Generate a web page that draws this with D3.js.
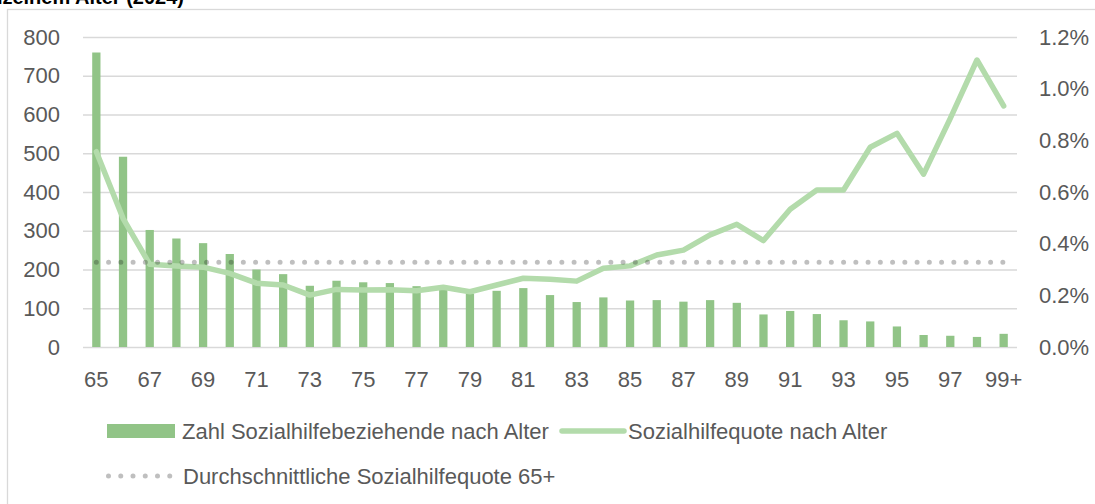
<!DOCTYPE html>
<html>
<head>
<meta charset="utf-8">
<script src="https://cdn.jsdelivr.net/npm/d3@7"></script>
<style>
  html, body { margin: 0; padding: 0; background: #fff; overflow: hidden; }
  svg { display: block; font-family: "Liberation Sans", Arial, sans-serif; }
</style>
</head>
<body>
<svg id="chart" width="1095" height="504"></svg>
<script>
// ages, single years 65..98 plus 99+
const ages = d3.range(65, 99).map(String).concat(["99+"])

// Zahl Sozialhilfebeziehende nach Alter
const recipients = [760, 491, 302, 280, 268, 240, 200, 188, 158, 171,
                    167, 165, 157, 148, 138, 145, 152, 134, 116, 128,
                    120, 121, 117, 121, 114, 84, 93, 85, 69, 66,
                    53, 31, 29, 26, 34]

// Sozialhilfequote nach Alter (in %)
const rate = [0.756, 0.498, 0.320, 0.314, 0.309, 0.285, 0.247, 0.240, 0.201, 0.223,
              0.221, 0.222, 0.218, 0.231, 0.214, 0.240, 0.266, 0.262, 0.255, 0.305,
              0.314, 0.356, 0.375, 0.434, 0.475, 0.412, 0.533, 0.608, 0.608, 0.773,
              0.827, 0.669, 0.885, 1.111, 0.933]

// Durchschnittliche Sozialhilfequote 65+ (in %)
const avgRate = 0.328

const leftTicks = d3.range(0, 801, 100)
const rightTicks = [0, 0.2, 0.4, 0.6, 0.8, 1.0, 1.2]

const seriesNames = ["Zahl Sozialhilfebeziehende nach Alter",
                     "Sozialhilfequote nach Alter",
                     "Durchschnittliche Sozialhilfequote 65+"]

const barColor = "#91C487"
const lineColor = "#B3DBAB"
const textColor = "#595959"
const gridColor = "#D9D9D9"
const fontSize = 22

const svg = d3.select("#chart")
const plotLeft = 83, plotRight = 1017, plotTop = 37, plotBottom = 347

const x = d3.scaleBand()
  .domain(ages)
  .range([plotLeft, plotRight])
  .paddingInner(0.69)
  .paddingOuter(0.345)

const yL = d3.scaleLinear().domain([0, 800]).range([plotBottom, plotTop])
const yR = d3.scaleLinear().domain([0, 1.2]).range([plotBottom, plotTop])

// title, cut off at the top edge like in the source image
svg.append("text")
  .attr("x", 184)
  .attr("y", 4)
  .attr("text-anchor", "end")
  .attr("font-weight", "bold")
  .attr("font-size", 20)
  .attr("fill", "#000")
  .text("Sozialhilfebeziehende nach einzelnem Alter (2024)")

// chart frame
svg.append("rect")
  .attr("x", 7.5).attr("y", 9.5)
  .attr("width", 1200).attr("height", 600)
  .attr("fill", "none")
  .attr("stroke", gridColor)
  .attr("stroke-width", 1.3)

// gridlines + left axis
const gLeft = svg.append("g")
  .attr("transform", `translate(${plotLeft},0)`)
  .call(d3.axisLeft(yL).tickValues(leftTicks).tickSize(-(plotRight - plotLeft)).tickPadding(23))
gLeft.select(".domain").remove()
gLeft.selectAll(".tick line").attr("stroke", gridColor).attr("stroke-width", 1.5)
gLeft.selectAll(".tick text")
  .attr("fill", textColor).attr("font-size", fontSize)
  .attr("font-family", "Liberation Sans, Arial, sans-serif")

// right axis
const gRight = svg.append("g")
  .attr("transform", `translate(${plotRight},0)`)
  .call(d3.axisRight(yR).tickValues(rightTicks).tickSize(0).tickPadding(22)
    .tickFormat(d => d3.format(".1f")(d) + "%"))
gRight.select(".domain").remove()
gRight.selectAll(".tick text")
  .attr("fill", textColor).attr("font-size", fontSize)
  .attr("font-family", "Liberation Sans, Arial, sans-serif")

// x axis, every second label
const gX = svg.append("g")
  .attr("transform", `translate(0,${plotBottom})`)
  .call(d3.axisBottom(x).tickSize(0).tickPadding(24)
    .tickValues(ages.filter((d, i) => i % 2 === 0)))
gX.select(".domain").remove()
gX.selectAll(".tick text")
  .attr("fill", textColor).attr("font-size", fontSize)
  .attr("font-family", "Liberation Sans, Arial, sans-serif")

// bars
svg.append("g")
  .selectAll("rect")
  .data(recipients)
  .join("rect")
    .attr("x", (d, i) => x(ages[i]))
    .attr("y", d => yL(d))
    .attr("width", x.bandwidth())
    .attr("height", d => yL(0) - yL(d))
    .attr("fill", barColor)

const cx = i => x(ages[i]) + x.bandwidth() / 2

// rate line
svg.append("path")
  .datum(rate)
  .attr("fill", "none")
  .attr("stroke", lineColor)
  .attr("stroke-width", 5.5)
  .attr("stroke-linejoin", "round")
  .attr("stroke-linecap", "round")
  .attr("d", d3.line().x((d, i) => cx(i)).y(d => yR(d)))

// average dotted line
svg.append("line")
  .attr("x1", cx(0)).attr("x2", cx(ages.length - 1))
  .attr("y1", yR(avgRate)).attr("y2", yR(avgRate))
  .attr("stroke", "rgba(0,0,0,0.25)")
  .attr("stroke-width", 5)
  .attr("stroke-linecap", "round")
  .attr("stroke-dasharray", "0 12.25")

// legend
const legend = svg.append("g")
  .attr("font-size", fontSize)
  .attr("fill", textColor)

legend.append("rect")
  .attr("x", 107).attr("y", 424).attr("width", 68).attr("height", 14)
  .attr("fill", barColor)
legend.append("text").attr("x", 182).attr("y", 431).attr("dy", "0.35em")
  .text(seriesNames[0])

legend.append("line")
  .attr("x1", 562).attr("x2", 624).attr("y1", 431).attr("y2", 431)
  .attr("stroke", lineColor).attr("stroke-width", 5.5).attr("stroke-linecap", "round")
legend.append("text").attr("x", 628).attr("y", 431).attr("dy", "0.35em")
  .text(seriesNames[1])

legend.append("line")
  .attr("x1", 108.5).attr("x2", 170).attr("y1", 476).attr("y2", 476)
  .attr("stroke", "rgba(0,0,0,0.25)").attr("stroke-width", 5)
  .attr("stroke-linecap", "round").attr("stroke-dasharray", "0 12.25")
legend.append("text").attr("x", 183).attr("y", 476).attr("dy", "0.35em")
  .text(seriesNames[2])
</script>
</body>
</html>
